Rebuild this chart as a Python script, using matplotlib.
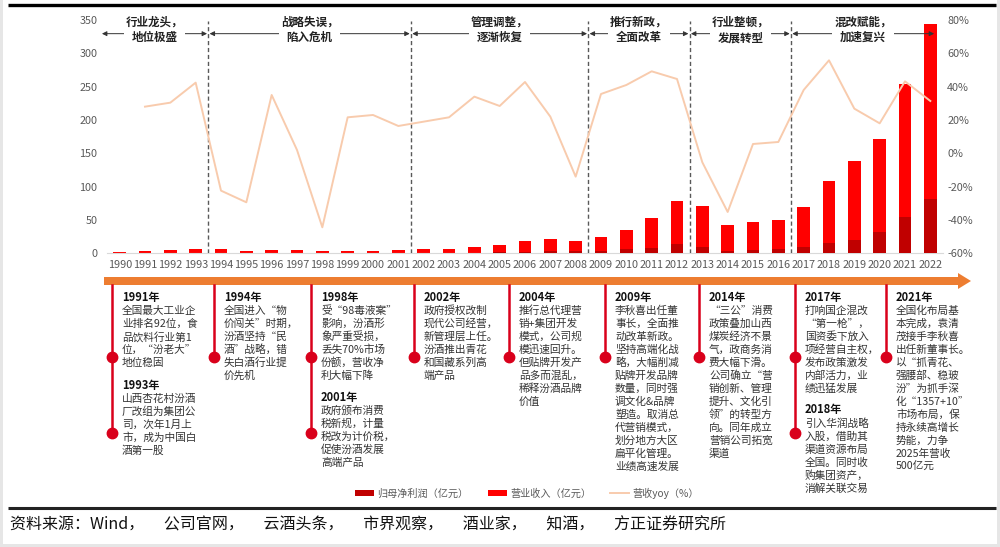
import numpy as np
import matplotlib
matplotlib.use('Agg')
import matplotlib.pyplot as plt
from matplotlib.patches import Rectangle, FancyArrow, Patch
from matplotlib.lines import Line2D

plt.rcParams['font.family'] = ['Noto Sans CJK SC', 'DejaVu Sans']

# 연도별 데이터 (亿元 / %)
years = list(range(1990, 2023))
revenue = [2.5, 3.5, 4.5, 6.5, 6.0, 4.0, 5.5, 5.5, 3.0, 3.5, 4.0, 5.5, 6.0, 7.0, 9.0, 12.0,
           18.0, 22.0, 18.5, 25.0, 35.5, 53.0, 78.0, 70.5, 42.5, 46.5, 50.0, 70.0, 108.5,
           138.0, 171.0, 253.5, 343.5]
net_profit = [0.3, 0.4, 0.5, 0.8, 0.7, 0.4, 0.5, 0.5, 0.2, 0.3, 0.3, 0.4, 0.5, 0.7, 1.0, 1.5,
              2.5, 4.0, 3.0, 4.0, 6.0, 8.5, 13.5, 10.0, 3.5, 5.5, 6.5, 10.0, 15.5,
              20.5, 31.5, 54.0, 81.0]
yoy = [np.nan, 28.0, 30.4, 42.4, -22.4, -29.4, 35.0, 2.0, -44.4, 21.6, 23.0, 16.4, 19.0,
       21.6, 34.0, 28.4, 42.8, 22.0, -14.0, 35.6, 41.0, 49.2, 44.6, -5.4, -35.2, 5.6,
       6.8, 38.0, 55.8, 26.8, 18.0, 43.2, 31.4]

# 단계 구분
phase_bounds = [1989.25, 1993.5, 2001.5, 2008.5, 2012.5, 2016.5, 2022.2]
phase_labels = ['行业龙头，\n地位极盛', '战略失误，\n陷入危机', '管理调整，\n逐渐恢复',
                '推行新政，\n全面改革', '行业整顿，\n发展转型', '混改赋能，\n加速复兴']

# 타임라인 이벤트
event_years = ['1991年', '1993年', '1994年', '1998年', '2001年', '2002年', '2004年',
               '2009年', '2014年', '2017年', '2018年', '2021年']
event_texts = [
    ['全国最大工业企', '业排名92位，食', '品饮料行业第1', '位，“汾老大”', '地位稳固'],
    ['山西杏花村汾酒', '厂改组为集团公', '司，次年1月上', '市，成为中国白', '酒第一股'],
    ['全国进入“物', '价闯关”时期，', '汾酒坚持“民', '酒”战略，错', '失白酒行业提', '价先机'],
    ['受“98毒液案”', '影响，汾酒形', '象严重受损，', '丢失70%市场', '份额，营收净', '利大幅下降'],
    ['政府颁布消费', '税新规，计量', '税改为计价税，', '促使汾酒发展', '高端产品'],
    ['政府授权改制', '现代公司经营，', '新管理层上任。', '汾酒推出青花', '和国藏系列高', '端产品'],
    ['推行总代理营', '销+集团开发', '模式，公司规', '模迅速回升。', '但贴牌开发产', '品多而混乱，',
     '稀释汾酒品牌', '价值'],
    ['李秋喜出任董', '事长，全面推', '动改革新政。', '坚持高端化战', '略，大幅削减', '贴牌开发品牌',
     '数量，同时强', '调文化&品牌', '塑造。取消总', '代营销模式，', '划分地方大区', '扁平化管理。',
     '业绩高速发展'],
    ['“三公”消费', '政策叠加山西', '煤炭经济不景', '气，政商务消', '费大幅下滑。', '公司确立“营',
     '销创新、管理', '提升、文化引', '领”的转型方', '向。同年成立', '营销公司拓宽', '渠道'],
    ['打响国企混改', '“第一枪”，', '国资委下放入', '项经营自主权，', '发布政策激发', '内部活力，业',
     '绩迅猛发展'],
    ['引入华润战略', '入股，借助其', '渠道资源布局', '全国。同时收', '购集团资产，', '消解关联交易'],
    ['全国化布局基', '本完成，袁清', '茂接手李秋喜', '出任新董事长。', '以“抓青花、', '强腰部、稳玻',
     '汾”为抓手深', '化“1357+10”', '市场布局，保', '持永续高增长', '势能，力争', '2025年营收',
     '500亿元'],
]

source_text = '资料来源：Wind，　 公司官网，　 云酒头条，　 市界观察，　 酒业家，　 知酒，　 方正证券研究所'

c_rev = '#FF0000'
c_np = '#C00000'
c_yoy = '#F8CBAD'
c_orange = '#ED7D31'
c_red = '#D9001B'
c_tick = '#595959'

fig = plt.figure(figsize=(10, 5.47), dpi=100)
fig.patch.set_facecolor('#E6E6E6')

# 배경 / 레이아웃용 축 (픽셀 좌표)
bg = fig.add_axes([0, 0, 1, 1], zorder=-1)
bg.set_xlim(0, 1000)
bg.set_ylim(547, 0)
bg.axis('off')
bg.add_patch(Rectangle((3, 0), 994, 544, facecolor='white', edgecolor='none'))
bg.plot([8, 996], [5, 5], color='black', lw=2.4, solid_capstyle='butt')
bg.plot([8, 996], [508, 508], color='#222222', lw=2.2, solid_capstyle='butt')

# 메인 차트
H = 547.0
ax = fig.add_axes([0.107, 1 - 253.3 / H, 0.836, 233.3 / H])
ax.patch.set_visible(False)
x = np.array(years)
ax.bar(x, revenue, width=0.5, color=c_rev, zorder=2)
ax.bar(x, net_profit, width=0.5, color=c_np, zorder=3)
ax.set_xlim(1989.5, 2022.5)
ax.set_ylim(0, 350)
ax.set_yticks(range(0, 351, 50))
ax.set_xticks(years)
ax.set_xticklabels([str(y) for y in years])
ax.tick_params(axis='both', length=0, colors=c_tick, labelsize=7.8)
ax.tick_params(axis='x', pad=5)
ax.tick_params(axis='y', pad=7)
for s in ['top', 'left', 'right']:
    ax.spines[s].set_visible(False)
ax.spines['bottom'].set_color('#D9D9D9')

ax2 = ax.twinx()
ax2.plot(x, yoy, color=c_yoy, lw=1.4, zorder=4)
ax2.set_ylim(-60, 80)
ax2.set_yticks(range(-60, 81, 20))
ax2.set_yticklabels([f'{v}%' for v in range(-60, 81, 20)])
ax2.tick_params(axis='y', length=0, colors=c_tick, labelsize=7.8, pad=3)
for s in ['top', 'left', 'right', 'bottom']:
    ax2.spines[s].set_visible(False)

# 단계 구분선 및 라벨
for b in phase_bounds[1:-1]:
    ax.plot([b, b], [0, 349], color='#595959', lw=1, ls=(0, (3, 2)), zorder=5)

for i, lab in enumerate(phase_labels):
    x0, x1 = phase_bounds[i], phase_bounds[i + 1]
    ax.annotate('', xy=(x0 + 0.05, 329.5), xytext=(x1 - 0.05, 329.5),
                arrowprops=dict(arrowstyle='<|-|>', color='#333333', lw=0.7,
                                mutation_scale=7, shrinkA=0, shrinkB=0),
                annotation_clip=False, zorder=6)
    ax.text((x0 + x1) / 2, 335, lab, ha='center', va='center', fontsize=8.3,
            fontweight='bold', color='#222222', linespacing=1.25, zorder=7,
            bbox=dict(facecolor='white', edgecolor='none', pad=1.5))

# 타임라인 화살표
bg.add_patch(FancyArrow(104, 281, 867, 0, width=8, head_width=16, head_length=13,
                        length_includes_head=True, color=c_orange, lw=0))

col_x = [112, 214, 311, 414, 509, 605, 699, 795, 886]
col_events = [[0, 1], [2], [3, 4], [5], [6], [7], [8], [9, 10], [11]]
second_y = {0: 385, 2: 397, 7: 410}
for ci, (lx, evs) in enumerate(zip(col_x, col_events)):
    dots = [357] if len(evs) == 1 else [357, 433]
    bg.plot([lx, lx], [285, dots[-1]], color=c_red, lw=1.8, zorder=2)
    bg.plot([lx] * len(dots), dots, 'o', color=c_red, ms=7.5, zorder=3)
    for k, ei in enumerate(evs):
        hy = 297 if k == 0 else second_y[ci]
        tx = lx + 10
        bg.text(tx, hy, event_years[ei], ha='left', va='center', fontsize=8,
                fontweight='bold', color='#111111')
        for j, line in enumerate(event_texts[ei]):
            bg.text(tx, hy + 13.7 + 13 * j, line, ha='left', va='center',
                    fontsize=7.7, color='#333333')

# 범례
handles = [Patch(facecolor=c_np), Patch(facecolor=c_rev),
           Line2D([0], [0], color=c_yoy, lw=1.4)]
labels = ['归母净利润（亿元）', '营业收入（亿元）', '营收yoy（%）']
leg = fig.legend(handles, labels, loc='center', bbox_to_anchor=(0.527, 1 - 493 / H), ncol=3,
                 frameon=False, fontsize=7.3, handlelength=1.9, handleheight=0.55,
                 columnspacing=1.9, handletextpad=0.3)
for t in leg.get_texts():
    t.set_color(c_tick)

bg.text(10, 525, source_text, ha='left', va='center', fontsize=11.5, color='#111111',
        style='italic')

fig.savefig('out.png', dpi=100)
